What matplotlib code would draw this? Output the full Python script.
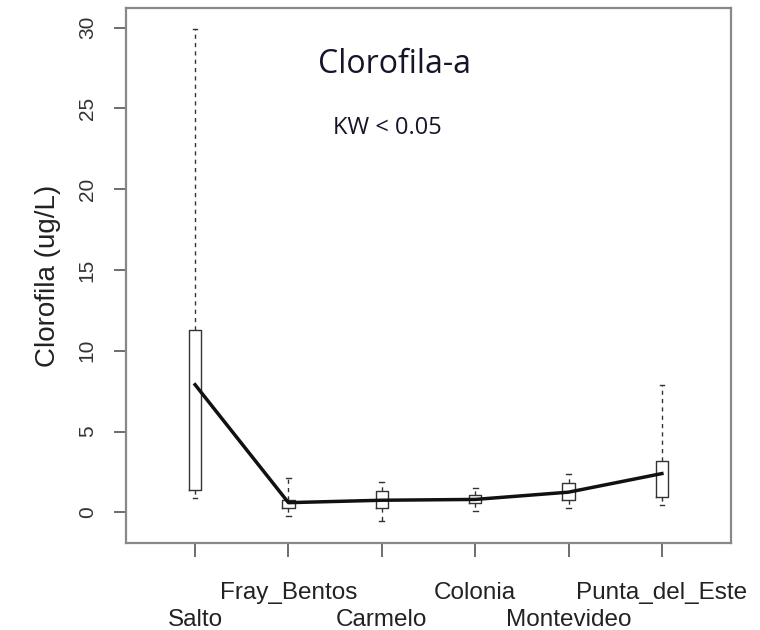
import matplotlib
matplotlib.use("Agg")
import matplotlib.pyplot as plt

sites = ["Salto", "Fray_Bentos", "Carmelo", "Colonia", "Montevideo", "Punta_del_Este"]
q1 = [1.4, 0.3, 0.3, 0.55, 0.75, 0.95]
q3 = [11.3, 0.75, 1.35, 1.05, 1.8, 3.2]
med = [6.0, 0.5, 0.8, 0.8, 1.2, 2.0]
whislo = [0.9, -0.2, -0.55, 0.1, 0.3, 0.45]
whishi = [29.9, 2.1, 1.9, 1.5, 2.4, 7.9]
means = [7.9, 0.6, 0.75, 0.8, 1.25, 2.4]
yticks = [0, 5, 10, 15, 20, 25, 30]

fig = plt.figure(figsize=(7.6, 6.3), dpi=100)
ax = fig.add_axes([0.1658, 0.138, 0.796, 0.849])

stats = []
for i in range(len(sites)):
    stats.append(dict(med=med[i], q1=q1[i], q3=q3[i], whislo=whislo[i],
                      whishi=whishi[i], fliers=[], label=sites[i]))
pos = list(range(1, len(sites) + 1))
ax.bxp(stats, positions=pos, widths=0.13, showfliers=False,
       boxprops=dict(color="#333333", linewidth=1.0),
       whiskerprops=dict(color="#333333", linewidth=1.0, linestyle=(0, (3, 3))),
       capprops=dict(color="#333333", linewidth=1.0),
       medianprops=dict(linewidth=0),
       capwidths=0.05)

ax.plot(pos, means, color="#111111", linewidth=2.5, zorder=5)

ax.set_xlim(0.26, 6.74)
ax.set_ylim(-1.9, 31.2)
ax.set_yticks(yticks)
ax.set_yticklabels([str(v) for v in yticks], rotation=90, va="center",
                   fontsize=15, family="Liberation Sans", color="#333333")
ax.set_xticks(pos)
ax.set_xticklabels([])
for i, s in enumerate(sites):
    off = -55.3 if i % 2 == 0 else -35.8
    ax.annotate(s, xy=(pos[i], 0), xycoords=("data", "axes fraction"),
                xytext=(0, off), textcoords="offset points",
                ha="center", va="center", fontsize=17.5,
                family="Liberation Sans", color="#222222", annotation_clip=False)
ax.tick_params(axis="x", length=10, width=1.2, color="#555555")
ax.tick_params(axis="y", length=9, width=1.2, color="#555555", pad=12)
for sp in ax.spines.values():
    sp.set_color("#888888")
    sp.set_linewidth(1.6)

ax.set_ylabel("Clorofila (ug/L)", fontsize=20, family="Liberation Sans",
              color="#222222", labelpad=12)

ax.text(3.14, 27.7, "Clorofila-a", fontsize=23, family="Open Sans", color="#15152a",
        ha="center", va="center")
ax.text(3.06, 23.8, "KW < 0.05", fontsize=17, family="Open Sans", color="#15152a",
        ha="center", va="center")

fig.savefig("out.png", dpi=100, facecolor="white")
